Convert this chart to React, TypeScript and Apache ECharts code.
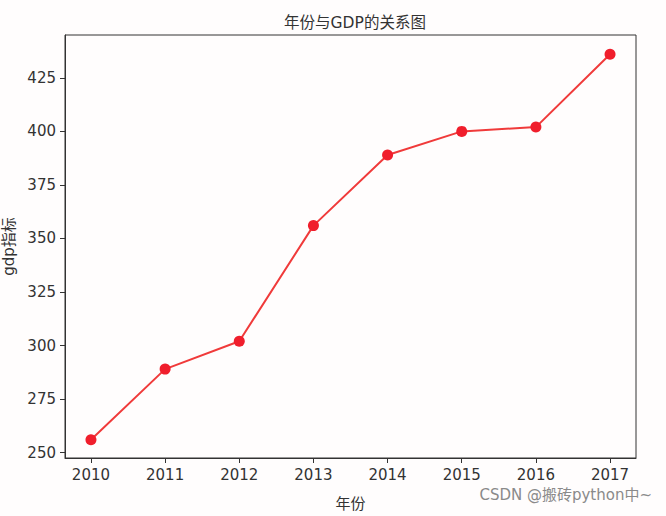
import React, { useEffect, useRef } from "react";
import * as echarts from "echarts";

const YEARS = [2010, 2011, 2012, 2013, 2014, 2015, 2016, 2017];
const GDP = [256, 289, 302, 356, 389, 400, 402, 436];
const Y_TICKS = [250, 275, 300, 325, 350, 375, 400, 425];

const FONT = "'DejaVu Sans', 'Noto Sans CJK SC', sans-serif";
const TEXT = "#333333";

const App: React.FC = () => {
    const ref = useRef<HTMLDivElement | null>(null);

    useEffect(() => {
        if (!ref.current) return;
        const inst = echarts.init(ref.current, undefined, { renderer: "svg" });
        inst.setOption({
            animation: false,
            backgroundColor: "#fffdfd",
            title: {
                text: "年份与GDP的关系图",
                left: 350,
                textAlign: "center",
                top: 10,
                textStyle: { fontFamily: FONT, fontSize: 15.5, fontWeight: "normal", color: TEXT },
            },
            grid: {
                left: 65,
                right: 30,
                top: 35,
                bottom: 58,
                outerBoundsMode: "none",
                containLabel: false,
                show: true,
                borderColor: "#333",
                borderWidth: 1,
                backgroundColor: "transparent",
            },
            xAxis: {
                type: "value",
                min: 2009.65,
                max: 2017.35,
                splitLine: { show: false },
                axisLine: { show: true, lineStyle: { color: "#333" } },
                axisTick: { show: true, length: 5, customValues: YEARS, lineStyle: { color: "#333" } },
                axisLabel: {
                    customValues: YEARS,
                    color: TEXT,
                    fontFamily: FONT,
                    fontSize: 15,
                    margin: 9,
                    formatter: (v: number) => String(Math.round(v)),
                },
                name: "年份",
                nameLocation: "middle",
                nameGap: 38,
                nameTextStyle: { fontFamily: FONT, fontSize: 15, color: TEXT },
            },
            yAxis: {
                type: "value",
                min: 247.5,
                max: 445,
                splitLine: { show: false },
                axisLine: { show: true, lineStyle: { color: "#333" } },
                axisTick: { show: true, length: 5, customValues: Y_TICKS, lineStyle: { color: "#333" } },
                axisLabel: {
                    customValues: Y_TICKS,
                    color: TEXT,
                    fontFamily: FONT,
                    fontSize: 15,
                    margin: 9,
                },
                name: "gdp指标",
                nameLocation: "middle",
                nameGap: 46,
                nameRotate: 90,
                nameTextStyle: { fontFamily: FONT, fontSize: 15, color: TEXT },
            },
            series: [
                {
                    type: "line",
                    data: YEARS.map((y, i) => [y, GDP[i]]),
                    symbol: "circle",
                    symbolSize: 11,
                    lineStyle: { color: "#f03a3a", width: 2 },
                    itemStyle: { color: "#f01e2c" },
                    emphasis: { disabled: true },
                },
            ],
            graphic: [
                {
                    type: "text",
                    right: 14,
                    top: 487,
                    style: {
                        text: "CSDN @搬砖python中~",
                        fontFamily: FONT,
                        fontSize: 15,
                        fill: "#8a8a8a",
                    },
                },
            ],
        });
        return () => inst.dispose();
    }, []);

    return <div ref={ref} style={{ position: "fixed", left: 0, top: 0, width: 666, height: 516 }} />;
};

export default App;
